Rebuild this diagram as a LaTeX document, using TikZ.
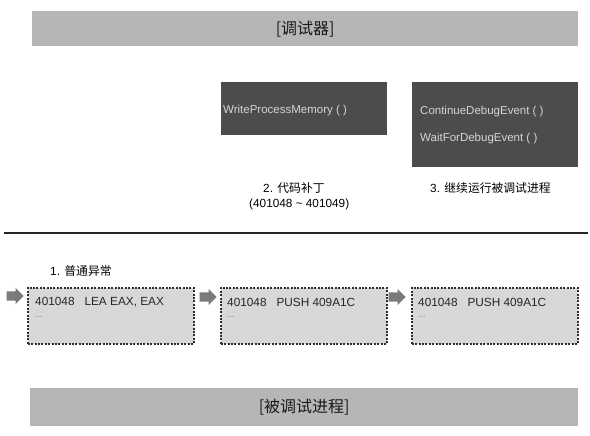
\documentclass[tikz,border=0pt]{standalone}
\usepackage{fontspec}
\setmainfont{Liberation Sans}
\newfontfamily\cjk{Noto Sans CJK SC}
\usetikzlibrary{shapes.arrows}
\definecolor{bannergray}{HTML}{B6B6B6}
\definecolor{darkbox}{HTML}{4C4C4C}
\definecolor{darktext}{HTML}{D4D4D4}
\definecolor{codefill}{HTML}{D8D8D8}
\definecolor{codeborder}{HTML}{2E2E2E}
\definecolor{arrowgray}{HTML}{7A7A7A}
\begin{document}
\begin{tikzpicture}[x=1pt,y=-1pt,
 banner/.style={fill=bannergray, draw=none, anchor=north west, inner sep=0, font=\cjk\fontsize{16}{19}\selectfont, text=black!90},
 darkpanel/.style={fill=darkbox, draw=none, anchor=north west, inner sep=0},
 paneltext/.style={text=darktext, anchor=west, inner sep=0, font=\fontsize{11.5}{13}\selectfont},
 codebox/.style={fill=codefill, draw=codeborder, line width=1.6pt, dash pattern=on 2pt off 1.4pt, anchor=north west, inner sep=0, minimum width=166pt, minimum height=56pt},
 codetext/.style={anchor=west, inner sep=0, text=black!85, font=\fontsize{11.8}{13}\selectfont},
 dotstext/.style={anchor=west, inner sep=0, text=black!50, font=\fontsize{9}{10}\selectfont},
 steplabel/.style={anchor=west, inner sep=0, text=black, font=\fontsize{11.8}{13}\selectfont},
 blockarrow/.style={single arrow, fill=arrowgray, draw=none, inner xsep=0pt, inner ysep=4.5pt, minimum height=17pt, single arrow head extend=3.5pt, anchor=east},
 divider/.style={line width=2.2pt, draw=black!85}
]
\useasboundingbox (0,0) rectangle (590,436);

% banners
\node[banner, minimum width=546pt, minimum height=35pt] (dbg) at (32,11) {[调试器]};
\node[banner, minimum width=548pt, minimum height=38pt] (dbe) at (30,388) {[被调试进程]};

% debugger panels
\node[darkpanel, minimum width=166pt, minimum height=53pt] (p1) at (221,82) {};
\node[darkpanel, minimum width=166pt, minimum height=85pt] (p2) at (412,82) {};
\node[paneltext] (t1) at (223,111) {WriteProcessMemory ( )};
\node[paneltext] (t2) at (420,112) {ContinueDebugEvent ( )};
\node[paneltext] (t3) at (420,139) {WaitForDebugEvent ( )};

% step labels
\node[steplabel] (s2) at (263,188) {2. {\cjk 代码补丁}};
\node[steplabel] (s2b) at (249,204) {(401048 \textasciitilde{} 401049)};
\node[steplabel] (s3) at (430,188) {3. {\cjk 继续运行被调试进程}};
\node[steplabel] (s1) at (50,271) {1. {\cjk 普通异常}};

% divider
\coordinate (dl) at (4,233);
\coordinate (dr) at (588,233);
\draw[divider] (dl) -- (dr);

% code boxes
\node[codebox] (c1) at (27,287) {};
\node[codebox] (c2) at (220,287) {};
\node[codebox] (c3) at (411,287) {};
\node[codetext] (ct1) at (35,302) {401048\hspace{10pt}LEA EAX, EAX};
\node[codetext] (ct2) at (227,302) {401048\hspace{10pt}PUSH 409A1C};
\node[codetext] (ct3) at (418,302) {401048\hspace{10pt}PUSH 409A1C};
\node[dotstext] (d1) at (35,317) {...};
\node[dotstext] (d2) at (227,317) {...};
\node[dotstext] (d3) at (418,317) {...};

% block arrows
\node[blockarrow] (a1) at ([shift={(-3,9)}]c1.north west) {};
\node[blockarrow] (a2) at ([shift={(-3,10)}]c2.north west) {};
\node[blockarrow] (a3) at ([shift={(-5,10)}]c3.north west) {};
\end{tikzpicture}
\end{document}
